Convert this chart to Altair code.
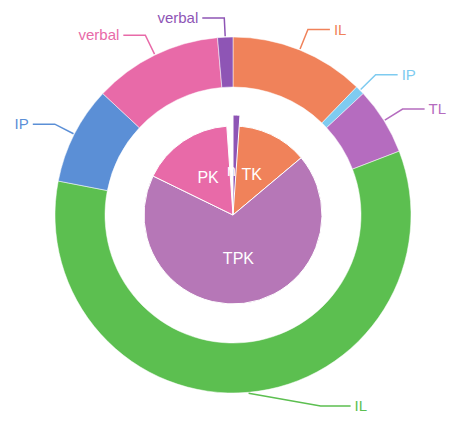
import math
import altair as alt
import pandas as pd

# ---- data ----
outer_labels = ["IL", "IP", "TL", "IL", "IP", "verbal", "verbal"]
outer_values = [44, 3, 22, 212, 32, 42, 5]
outer_colors = ["#f0825a", "#7ecbf0", "#b56cbf", "#5cbf50", "#5b8fd6", "#e86aa8", "#8e55b5"]

inner_labels = ["TK", "TPK", "PK", "n"]
inner_values = [50, 246, 60, 4]
inner_colors = ["#f0825a", "#b677b7", "#e86aa8", "#8e55b5"]

# ---- geometry ----
W, H = 443, 405
cx, cy = 225, 207
R_OUT, R_IN, R_PIE, R_HI = 178, 128, 89, 100
Y_MIN, Y_MAX = 10, H - 7

outer = pd.DataFrame({"idx": range(len(outer_labels)), "label": outer_labels,
                      "value": outer_values, "color": outer_colors})
inner = pd.DataFrame({"idx": range(len(inner_labels)), "label": inner_labels,
                      "value": inner_values, "color": inner_colors})


def mid_angles(values):
    tot = sum(values)
    out, acc = [], 0.0
    for v in values:
        out.append((acc + v / 2) / tot * 2 * math.pi)
        acc += v
    return out


# leader lines + outer label texts
line_rows, text_rows = [], []
for i, (lab, col, m) in enumerate(zip(outer_labels, outer_colors, mid_angles(outer_values))):
    s, c = math.sin(m), math.cos(m)
    side = 1 if s >= 0 else -1
    p0 = (cx + (R_OUT + 1) * s, cy - (R_OUT + 1) * c)
    p1 = (cx + (R_OUT + 22) * s, cy - (R_OUT + 22) * c)
    hlen = 22
    if p1[1] > Y_MAX:
        # label pushed aside when it would leave the canvas
        p1 = (p0[0] + side * 72, Y_MAX)
        hlen = 30
    elif p1[1] < Y_MIN:
        p1 = (p1[0], Y_MIN)
    p2 = (p1[0] + side * hlen, p1[1])
    for o, p in enumerate([p0, p1, p2]):
        line_rows.append({"idx": i, "o": o, "px": p[0], "py": p[1], "color": col})
    text_rows.append({"label": lab, "px": p2[0] + side * 4, "py": p2[1], "color": col,
                      "side": "right" if side > 0 else "left"})
lines = pd.DataFrame(line_rows)
texts = pd.DataFrame(text_rows)

inner_text = []
for lab, m in zip(inner_labels, mid_angles(inner_values)):
    inner_text.append({"label": lab, "px": cx + R_PIE * 0.5 * math.sin(m),
                       "py": cy - R_PIE * 0.5 * math.cos(m)})
inner_text = pd.DataFrame(inner_text)

# ---- chart ----
ring = alt.Chart(outer).mark_arc(radius=R_OUT, radius2=R_IN, stroke="white", strokeWidth=0.5).encode(
    theta=alt.Theta("value:Q", stack=True),
    order=alt.Order("idx:Q"),
    color=alt.Color("color:N", scale=None),
    x=alt.value(cx), y=alt.value(cy),
)

pie = alt.Chart(inner).transform_calculate(
    r=f"datum.label == 'n' ? {R_HI} : {R_PIE}"
).mark_arc(stroke="white", strokeWidth=1).encode(
    theta=alt.Theta("value:Q", stack=True),
    order=alt.Order("idx:Q"),
    color=alt.Color("color:N", scale=None),
    radius=alt.Radius("r:Q", scale=None),
    x=alt.value(cx), y=alt.value(cy),
)

leader = alt.Chart(lines).mark_line(strokeWidth=1.5).encode(
    x=alt.X("px:Q", scale=None, axis=None),
    y=alt.Y("py:Q", scale=None, axis=None),
    detail="idx:N",
    order="o:Q",
    color=alt.Color("color:N", scale=None),
)

txt_right = alt.Chart(texts).transform_filter(alt.datum.side == "right").mark_text(
    align="left", baseline="middle", fontSize=15, font="Liberation Sans").encode(
    x=alt.X("px:Q", scale=None, axis=None),
    y=alt.Y("py:Q", scale=None, axis=None),
    text="label:N",
    color=alt.Color("color:N", scale=None),
)
txt_left = alt.Chart(texts).transform_filter(alt.datum.side == "left").mark_text(
    align="right", baseline="middle", fontSize=15, font="Liberation Sans").encode(
    x=alt.X("px:Q", scale=None, axis=None),
    y=alt.Y("py:Q", scale=None, axis=None),
    text="label:N",
    color=alt.Color("color:N", scale=None),
)

txt_inner = alt.Chart(inner_text).mark_text(
    align="center", baseline="middle", fontSize=16, font="Liberation Sans", color="white").encode(
    x=alt.X("px:Q", scale=None, axis=None),
    y=alt.Y("py:Q", scale=None, axis=None),
    text="label:N",
)

chart = alt.layer(ring, pie, leader, txt_right, txt_left, txt_inner).properties(
    width=W, height=H, padding=0, autosize=alt.AutoSizeParams(type="none"),
    background="white",
).configure_view(stroke=None)

chart.save("out.html", embed_options={"renderer": "svg", "actions": False})
